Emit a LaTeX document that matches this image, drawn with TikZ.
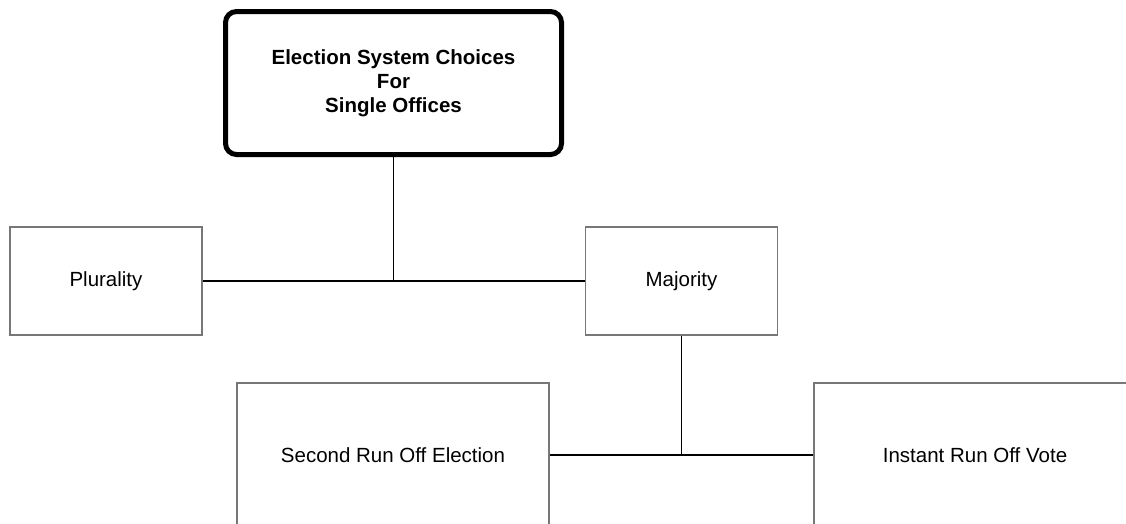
\documentclass[tikz,border=0pt]{standalone}
\usepackage{fontspec}
\setmainfont{Liberation Sans}
\definecolor{boxgray}{HTML}{777777}
\begin{document}
\begin{tikzpicture}[x=1pt, y=-1pt,
    font=\fontsize{20.5}{24}\selectfont,
    choicebox/.style={draw=boxgray, line width=1.2pt, fill=white, inner sep=0pt, align=center},
    link/.style={draw=black, line width=1.4pt}]
        % Page frame
        \clip (0,0) rectangle (1126,523);
        \fill[white] (0,0) rectangle (1126,523);

        % Title box
        \node[draw, line width=5pt, rounded corners=11pt, inner sep=0pt, align=center,
              minimum width=336pt, minimum height=143pt,
              font=\fontsize{20.5}{24}\selectfont\bfseries] (title) at (393.5,83)
        {Election System Choices\\For\\Single Offices};

        % First level
        \node[choicebox, minimum width=192pt, minimum height=108pt] (plurality) at (106,281) {Plurality};
        \node[choicebox, minimum width=192pt, minimum height=108pt] (majority) at (681.5,281) {Majority};

        % Second level
        \node[choicebox, minimum width=312pt, minimum height=144pt] (second) at (393,455) {Second Run Off Election};
        \node[choicebox, minimum width=322pt, minimum height=144pt] (instant) at (975,455) {Instant Run Off Vote};

        % Connectors
        \coordinate (topjoin) at (title.south |- plurality.east);
        \coordinate (lowjoin) at (majority.south |- second.east);
        \draw[link] (plurality.east) -- (majority.west);
        \draw[link] (title.south) -- (topjoin);
        \draw[link] (second.east) -- (instant.west);
        \draw[link] (majority.south) -- (lowjoin);

      \end{tikzpicture}
\end{document}
